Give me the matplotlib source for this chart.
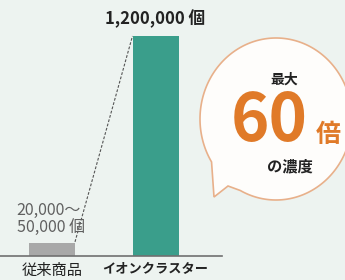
import matplotlib
matplotlib.use("Agg")
import matplotlib.pyplot as plt
from matplotlib.path import Path
from matplotlib.patches import PathPatch
import numpy as np

plt.rcParams['font.family'] = ['Noto Sans CJK JP', 'DejaVu Sans']

categories = ["従来商品", "イオンクラスター"]
values = [70000, 1200000]
bar_colors = ["#a8a8a8", "#3a9e8b"]
value_labels = ["20,000～\n50,000 個", "1,200,000 個"]
bubble_top = "最大"
bubble_num = "60"
bubble_unit = "倍"
bubble_bottom = "の濃度"

W, H = 345, 280
bg = "#edf3f0"
fig = plt.figure(figsize=(W / 100, H / 100), dpi=100, facecolor=bg)

# overlay axes in pixel coords for bubble
ov = fig.add_axes([0, 0, 1, 1], facecolor="none")
ov.set_xlim(0, W)
ov.set_ylim(H, 0)
ov.axis("off")

# main bar axes
ax_bottom_px = 256
ax_top_px = 36
ax_right_px = 222
ax = fig.add_axes([0, (H - ax_bottom_px) / H, ax_right_px / W, (ax_bottom_px - ax_top_px) / H],
                  facecolor="none")
spacing = 103.5
x0_px = 52
ax.set_xlim(-x0_px / spacing, (ax_right_px - x0_px) / spacing)
ax.set_ylim(0, max(values))
x = np.arange(len(categories))
bw = 46 / spacing
ax.bar(x, values, width=bw, color=bar_colors, zorder=2)
for s in ["top", "right", "left"]:
    ax.spines[s].set_visible(False)
ax.spines["bottom"].set_color("#707070")
ax.spines["bottom"].set_linewidth(1.2)
ax.set_yticks([])
ax.set_xticks(x)
ax.set_xticklabels(categories, fontsize=11, color="#222222")
ax.get_xticklabels()[1].set_fontweight("bold")
ax.get_xticklabels()[1].set_fontsize(9.5)
ax.tick_params(axis="x", length=0, pad=4)

# dashed connector
ax.plot([x[0] + bw / 2, x[1] - bw / 2], [values[0] * 1.1, values[1]], ls=(0, (2.5, 1.5)),
        color="#555555", lw=0.8, zorder=1, clip_on=False)

# value labels
ax.text(x[1], values[1] * 1.035, value_labels[1], ha="center", va="bottom",
        fontsize=12, fontweight="bold", color="#222222", clip_on=False)
ax.text(x[0] - 0.34, values[0] * 1.55, value_labels[0], ha="left", va="bottom",
        fontsize=11.5, color="#606060", linespacing=1.05, clip_on=False)

# speech bubble
cx, cy, rx, ry = 276, 119, 76, 81
a_tail1 = np.deg2rad(148)
a_tail2 = np.deg2rad(118)
verts = [(cx + rx * np.cos(a), cy + ry * np.sin(a)) for a in np.linspace(a_tail1, a_tail2 + 2 * np.pi, 300)]
verts.append((228, 186))
verts.append((214, 197))
verts.append((verts[0][0], verts[0][1]))
codes = [Path.MOVETO] + [Path.LINETO] * (len(verts) - 2) + [Path.CLOSEPOLY]
patch = PathPatch(Path(verts, codes), facecolor="#fefdfb", edgecolor="#e8b08a", lw=1.2, zorder=3)
ov.add_patch(patch)

ov.text(284, 80, bubble_top, ha="center", va="center", fontsize=10, fontweight="bold",
        color="#222222", zorder=4)
ov.text(269, 121, bubble_num, ha="center", va="center", fontsize=47, fontweight="bold",
        color="#e07a28", zorder=4)
ov.text(328, 135, bubble_unit, ha="center", va="center", fontsize=18, fontweight="bold",
        color="#e07a28", zorder=4)
ov.text(290, 166, bubble_bottom, ha="center", va="center", fontsize=11, fontweight="bold",
        color="#222222", zorder=4)

fig.savefig("out.png", dpi=100, facecolor=bg)
